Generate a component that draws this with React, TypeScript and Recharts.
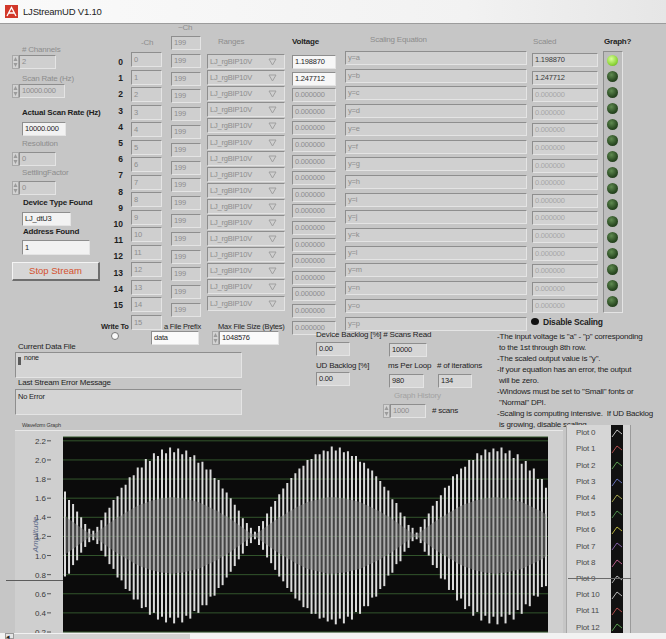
import React from "react";
import { ComposedChart, Bar, Area, XAxis, YAxis, CartesianGrid } from "recharts";

/* ---------- Waveform data (~4px per stroke) ---------- */

const strokeHigh = [
  1.67, 1.58, 1.54, 1.46, 1.40, 1.33, 1.28, 1.26, 1.30, 1.37, 1.45, 1.50, 1.58, 1.62, 1.71, 1.74, 1.82, 1.84, 1.92, 1.92,
  2.01, 1.99, 2.07, 2.04, 2.11, 2.07, 2.13, 2.08, 2.12, 2.06, 2.10, 2.03, 2.05, 1.97, 1.98, 1.90, 1.90, 1.81, 1.79, 1.70,
  1.66, 1.60, 1.53, 1.47, 1.39, 1.34, 1.29, 1.25, 1.31, 1.36, 1.44, 1.51, 1.57, 1.64, 1.70, 1.76, 1.81, 1.86, 1.91, 1.94,
  2.00, 2.01, 2.06, 2.06, 2.10, 2.09, 2.14, 2.10, 2.13, 2.08, 2.09, 2.04, 2.04, 1.98, 1.97, 1.91, 1.89, 1.83, 1.78, 1.72,
  1.68, 1.59, 1.55, 1.45, 1.41, 1.32, 1.29, 1.24, 1.30, 1.38, 1.44, 1.52, 1.57, 1.63, 1.71, 1.73, 1.83, 1.85, 1.91, 1.93,
  2.00, 2.00, 2.07, 2.05, 2.11, 2.08, 2.12, 2.09, 2.13, 2.07, 2.10, 2.02, 2.06, 1.96, 1.99, 1.89, 1.91, 1.80, 1.80, 1.71,
];

const strokeLow = [
  0.78, 0.81, 0.90, 0.95, 1.03, 1.09, 1.14, 1.16, 1.12, 1.05, 0.99, 0.91, 0.86, 0.77, 0.74, 0.65, 0.63, 0.54, 0.54, 0.45,
  0.46, 0.38, 0.40, 0.33, 0.36, 0.30, 0.35, 0.29, 0.35, 0.30, 0.37, 0.34, 0.42, 0.40, 0.48, 0.48, 0.57, 0.58, 0.66, 0.69,
  0.77, 0.83, 0.89, 0.96, 1.02, 1.10, 1.13, 1.17, 1.11, 1.06, 0.98, 0.92, 0.85, 0.78, 0.73, 0.66, 0.62, 0.55, 0.53, 0.46,
  0.45, 0.39, 0.39, 0.34, 0.35, 0.31, 0.33, 0.28, 0.34, 0.29, 0.36, 0.33, 0.41, 0.39, 0.47, 0.47, 0.56, 0.57, 0.65, 0.68,
  0.79, 0.82, 0.91, 0.94, 1.04, 1.08, 1.15, 1.17, 1.13, 1.04, 1.00, 0.90, 0.87, 0.76, 0.75, 0.64, 0.64, 0.53, 0.55, 0.44,
  0.47, 0.37, 0.41, 0.32, 0.37, 0.29, 0.36, 0.28, 0.36, 0.29, 0.38, 0.33, 0.43, 0.39, 0.49, 0.47, 0.58, 0.57, 0.67, 0.68,
];

// grey inner band (second channel)
const bandHigh = [
  1.41, 1.38, 1.35, 1.32, 1.29, 1.26, 1.23, 1.22, 1.25, 1.28, 1.31, 1.34, 1.37, 1.40, 1.42, 1.45, 1.47, 1.50, 1.52, 1.54,
  1.55, 1.57, 1.58, 1.59, 1.60, 1.60, 1.61, 1.61, 1.60, 1.60, 1.59, 1.58, 1.57, 1.56, 1.54, 1.52, 1.50, 1.48, 1.46, 1.43,
  1.41, 1.38, 1.35, 1.32, 1.29, 1.26, 1.23, 1.22, 1.25, 1.28, 1.31, 1.34, 1.37, 1.40, 1.42, 1.45, 1.47, 1.50, 1.52, 1.54,
  1.56, 1.57, 1.58, 1.59, 1.60, 1.61, 1.61, 1.61, 1.60, 1.60, 1.59, 1.58, 1.57, 1.56, 1.54, 1.52, 1.50, 1.48, 1.46, 1.43,
  1.41, 1.38, 1.35, 1.32, 1.29, 1.26, 1.23, 1.22, 1.25, 1.28, 1.31, 1.34, 1.37, 1.40, 1.42, 1.45, 1.47, 1.50, 1.52, 1.54,
  1.55, 1.57, 1.58, 1.59, 1.60, 1.60, 1.61, 1.61, 1.60, 1.60, 1.59, 1.58, 1.57, 1.56, 1.54, 1.52, 1.50, 1.48, 1.46, 1.43,
];

const bandLow = [
  1.01, 1.04, 1.07, 1.10, 1.13, 1.16, 1.19, 1.20, 1.17, 1.14, 1.11, 1.08, 1.05, 1.02, 1.00, 0.97, 0.95, 0.92, 0.90, 0.88,
  0.87, 0.85, 0.84, 0.83, 0.82, 0.82, 0.81, 0.81, 0.82, 0.82, 0.83, 0.84, 0.85, 0.86, 0.88, 0.90, 0.92, 0.94, 0.96, 0.99,
  1.01, 1.04, 1.07, 1.10, 1.13, 1.16, 1.19, 1.20, 1.17, 1.14, 1.11, 1.08, 1.05, 1.02, 1.00, 0.97, 0.95, 0.92, 0.90, 0.88,
  0.86, 0.85, 0.84, 0.83, 0.82, 0.81, 0.81, 0.81, 0.82, 0.82, 0.83, 0.84, 0.85, 0.86, 0.88, 0.90, 0.92, 0.94, 0.96, 0.99,
  1.01, 1.04, 1.07, 1.10, 1.13, 1.16, 1.19, 1.20, 1.17, 1.14, 1.11, 1.08, 1.05, 1.02, 1.00, 0.97, 0.95, 0.92, 0.90, 0.88,
  0.87, 0.85, 0.84, 0.83, 0.82, 0.82, 0.81, 0.81, 0.82, 0.82, 0.83, 0.84, 0.85, 0.86, 0.88, 0.90, 0.92, 0.94, 0.96, 0.99,
];

const ampTicks = [0.2, 0.4, 0.6, 0.8, 1.0, 1.2, 1.4, 1.6, 1.8, 2.0, 2.2];

const waveData = strokeHigh.map((hi, i) => ({
  i,
  stroke: [strokeLow[i], hi],
  band: [bandLow[i], bandHigh[i]],
}));

/* ---------- Front panel values ---------- */

const rowLabels = ["0", "1", "2", "3", "4", "5", "6", "7", "8", "9", "10", "11", "12", "13", "14", "15"];
const chValues = ["0", "1", "2", "3", "4", "5", "6", "7", "8", "9", "10", "11", "12", "13", "14", "15"];
const numChValues = rowLabels.map(() => "199");
const ranges = rowLabels.map(() => "LJ_rgBIP10V");
const voltages = ["1.198870", "1.247712", ...Array(15).fill("0.000000")];
const equations = ["y=a", "y=b", "y=c", "y=d", "y=e", "y=f", "y=g", "y=h", "y=i", "y=j", "y=k", "y=l", "y=m", "y=n", "y=o", "y=p"];
const scaled = ["1.198870", "1.247712", ...Array(13).fill("0.000000")];
const ledOn = [true, ...Array(15).fill(false)];

const notes = [
  '-The input voltage is "a" - "p" corresponding',
  " to the 1st through 8th row.",
  '-The scaled output value is "y".',
  "-If your equation has an error, the output",
  " will be zero.",
  '-Windows must be set to "Small" fonts or',
  ' "Normal" DPI.',
  "-Scaling is computing intensive.  If UD Backlog",
  " is growing, disable scaling.",
];

const legendNames = ["Plot 0", "Plot 1", "Plot 2", "Plot 3", "Plot 4", "Plot 5", "Plot 6", "Plot 7", "Plot 8", "Plot 9", "Plot 10", "Plot 11", "Plot 12"];
const legendColors = ["#eeeeee", "#d85a5a", "#6cc060", "#7a86e0", "#c8c85a", "#5aa85a", "#e0d84a", "#9a70c8", "#e070a8", "#dddddd", "#dddddd", "#d85a5a", "#6cc060"];

/* ---------- Styling helpers ---------- */

const FONT = "'Liberation Sans', Arial, sans-serif";
const GREY = "#8d8d8d";
const DARK = "#1e1e1e";

type TxtProps = {
  x: number;
  y: number;
  size?: number;
  color?: string;
  bold?: boolean;
  children: React.ReactNode;
};

function Txt({ x, y, size = 8, color = DARK, bold, children }: TxtProps) {
  return (
    <div
      style={{
        position: "absolute",
        left: x,
        top: y - size * 0.6,
        fontSize: size,
        lineHeight: `${size * 1.2}px`,
        color,
        fontWeight: bold ? 700 : 400,
        whiteSpace: "pre",
        letterSpacing: -0.2,
      }}
    >
      {children}
    </div>
  );
}

type FieldProps = {
  x: number;
  y: number;
  w: number;
  h: number;
  text?: string;
  bg?: string;
  color?: string;
  size?: number;
};

function Field({ x, y, w, h, text, bg = "#cfcfcf", color = GREY, size = 7.5 }: FieldProps) {
  return (
    <div
      style={{
        position: "absolute",
        left: x,
        top: y,
        width: w,
        height: h,
        boxSizing: "border-box",
        background: bg,
        borderTop: "1px solid #8e8e8e",
        borderLeft: "1px solid #8e8e8e",
        borderRight: "1px solid #e4e4e4",
        borderBottom: "1px solid #e4e4e4",
        fontSize: size,
        lineHeight: `${h - 2}px`,
        paddingLeft: 2,
        color,
        whiteSpace: "nowrap",
        overflow: "hidden",
        letterSpacing: -0.2,
      }}
    >
      {text}
    </div>
  );
}

function Spinner({ x, y, h }: { x: number; y: number; h: number }) {
  return (
    <svg style={{ position: "absolute", left: x, top: y }} width={7} height={h}>
      <rect x={0.5} y={0.5} width={6} height={h - 1} fill="#d2d2d2" stroke="#a8a8a8" />
      <path d={`M1.5 ${h / 2 - 1} L3.5 2 L5.5 ${h / 2 - 1} Z`} fill="#9a9a9a" />
      <path d={`M1.5 ${h / 2 + 1} L3.5 ${h - 2} L5.5 ${h / 2 + 1} Z`} fill="#9a9a9a" />
    </svg>
  );
}

/* ---------- Graph ---------- */

function AmpTick(props: any) {
  const { y, payload } = props;
  return (
    <g>
      <text x={31} y={y} dy={3} textAnchor="end" fontSize={8} fill="#3a3a3a" fontFamily={FONT}>
        {Number(payload.value).toFixed(1)}
      </text>
      <line x1={32} x2={36} y1={y} y2={y} stroke="#555" />
    </g>
  );
}

function WaveformGraph() {
  return (
    <ComposedChart
      width={547}
      height={209}
      data={waveData}
      margin={{ top: 7, right: 14, bottom: 7, left: 0 }}
      barCategoryGap={0}
    >
      <CartesianGrid vertical={false} stroke="#33562d" fill="#0b0b0b" fillOpacity={1} />
      <XAxis dataKey="i" hide />
      <YAxis
        domain={[0.2, 2.24]}
        ticks={ampTicks}
        interval={0}
        width={48}
        axisLine={false}
        tickLine={false}
        tick={<AmpTick />}
        allowDataOverflow
        label={{
          value: "Amplitude",
          angle: -90,
          position: "insideLeft",
          offset: 20,
          style: { fontSize: 8, fill: "#5d6b8a", fontStyle: "italic", fontFamily: FONT, textAnchor: "middle" },
        }}
      />
      <Bar dataKey="stroke" fill="#dcdcdc" barSize={2} isAnimationActive={false} />
      <Area
        dataKey="band"
        type="linear"
        stroke="none"
        fill="#7c7c7c"
        fillOpacity={0.5}
        isAnimationActive={false}
        zIndex={450}
      />
    </ComposedChart>
  );
}

/* ---------- App ---------- */

export default function App() {
  return (
    <div
      style={{
        position: "absolute",
        left: 0,
        top: 0,
        width: 666,
        height: 639,
        overflow: "hidden",
        background: "#c6c6c6",
        fontFamily: FONT,
      }}
    >
      {/* title bar */}
      <div
        style={{
          position: "absolute",
          left: 0,
          top: 0,
          width: 666,
          height: 23,
          background: "linear-gradient(90deg, #fafafa, #f2f2f2 70%, #e6e6e6)",
          borderBottom: "1px solid #9c9c9c",
        }}
      />
      <svg style={{ position: "absolute", left: 5, top: 5 }} width={13} height={13}>
        <rect width={13} height={13} fill="#d2382a" />
        <path d="M2 11 L6.5 2.5 L11 11 M4 8 L9 8" stroke="#fff" strokeWidth={1.3} fill="none" />
      </svg>
      <Txt x={23} y={12} size={9.5} color="#222">
        LJStreamUD V1.10
      </Txt>

      {/* left column */}
      <Txt x={22} y={50} color={GREY}># Channels</Txt>
      <Spinner x={12} y={55} h={14} />
      <Field x={19} y={55} w={37} h={14} text="2" />
      <Txt x={22} y={79} color={GREY}>Scan Rate (Hz)</Txt>
      <Spinner x={12} y={84} h={14} />
      <Field x={19} y={84} w={46} h={14} text="10000.000" />
      <Txt x={22} y={113} bold>Actual Scan Rate (Hz)</Txt>
      <Field x={22} y={122} w={44} h={14} text="10000.000" bg="#f2f2f2" color={DARK} />
      <Txt x={22} y={144} color={GREY}>Resolution</Txt>
      <Spinner x={12} y={152} h={14} />
      <Field x={19} y={152} w={37} h={14} text="0" />
      <Txt x={22} y={173} color={GREY}>SettlingFactor</Txt>
      <Spinner x={12} y={181} h={14} />
      <Field x={19} y={181} w={37} h={14} text="0" />
      <Txt x={23} y={203} bold>Device Type Found</Txt>
      <Field x={22} y={212} w={49} h={14} text="LJ_dtU3" bg="#f2f2f2" color={DARK} />
      <Txt x={23} y={232} bold>Address Found</Txt>
      <Field x={22} y={240} w={68} h={15} text="1" bg="#f2f2f2" color={DARK} />
      <div
        style={{
          position: "absolute",
          left: 12,
          top: 262,
          width: 88,
          height: 19,
          boxSizing: "border-box",
          background: "#d6d6d6",
          borderTop: "1px solid #f4f4f4",
          borderLeft: "1px solid #f4f4f4",
          borderRight: "2px solid #6e6e6e",
          borderBottom: "2px solid #6e6e6e",
          color: "#d4512e",
          fontSize: 9.5,
          lineHeight: "16px",
          textAlign: "center",
        }}
      >
        Stop Stream
      </div>

      {/* channel table */}
      <Txt x={141} y={43} color={GREY}>-Ch</Txt>
      <Txt x={178} y={28} color={GREY}>~Ch</Txt>
      <Txt x={218} y={42} color={GREY}>Ranges</Txt>
      <Txt x={292} y={42} bold>Voltage</Txt>
      <Txt x={370} y={40} color={GREY}>Scaling Equation</Txt>
      <Txt x={533} y={42} color={GREY}>Scaled</Txt>
      <Txt x={604} y={42} bold>Graph?</Txt>

      {rowLabels.map((r, i) => (
        <div
          key={"rl" + i}
          style={{
            position: "absolute",
            left: 104,
            width: 19,
            top: 62 + 16.2 * i - 5,
            fontSize: 8.5,
            lineHeight: "10px",
            fontWeight: 700,
            textAlign: "right",
            color: DARK,
          }}
        >
          {r}
        </div>
      ))}
      {chValues.map((c, i) => (
        <Field key={"ch" + i} x={131} y={52 + 17.5 * i} w={31} h={15} text={c} />
      ))}
      {numChValues.map((c, i) => (
        <Field key={"nc" + i} x={171} y={36 + 17.8 * i} w={30} h={14} text={c} />
      ))}
      {ranges.map((r, i) => (
        <div key={"rg" + i}>
          <Field x={207} y={54 + 16.1 * i} w={78} h={15} text={r} bg="#d0d0d0" />
          <svg style={{ position: "absolute", left: 268, top: 58 + 16.1 * i }} width={9} height={8}>
            <path d="M1 1 L8 1 L4.5 7 Z" fill="none" stroke="#a0a0a0" />
          </svg>
        </div>
      ))}
      {voltages.map((v, i) => (
        <Field
          key={"v" + i}
          x={292}
          y={55 + 16.6 * i}
          w={44}
          h={14}
          text={v}
          bg={i < 2 ? "#f7f7f7" : "#cfcfcf"}
          color={i < 2 ? DARK : GREY}
        />
      ))}
      {equations.map((e, i) => (
        <Field key={"eq" + i} x={345} y={51 + 17.7 * i} w={182} h={14} text={e} bg="#d0d0d0" />
      ))}
      {scaled.map((s, i) => (
        <Field
          key={"sc" + i}
          x={532}
          y={53 + 17.6 * i}
          w={66}
          h={14}
          text={s}
          bg="#d2d2d2"
          color={i < 2 ? "#3a3a3a" : "#a6a6a6"}
        />
      ))}
      <div
        style={{
          position: "absolute",
          left: 603,
          top: 51,
          width: 20,
          height: 262,
          boxSizing: "border-box",
          background: "#bdbdbd",
          borderTop: "1px solid #8e8e8e",
          borderLeft: "1px solid #8e8e8e",
          borderRight: "1px solid #e4e4e4",
          borderBottom: "1px solid #e4e4e4",
        }}
      />
      {ledOn.map((on, i) => (
        <div
          key={"led" + i}
          style={{
            position: "absolute",
            left: 607,
            top: 54.5 + 16.1 * i,
            width: 11,
            height: 11,
            borderRadius: "50%",
            background: on
              ? "radial-gradient(circle at 40% 35%, #d8ff9a, #8fd63a 60%, #5a9a28)"
              : "radial-gradient(circle at 40% 35%, #5f8a50, #2a4a22 60%, #1a2e16)",
          }}
        />
      ))}
      <div style={{ position: "absolute", left: 531, top: 318, width: 8, height: 7, borderRadius: "50%", background: "#111" }} />
      <Txt x={543} y={322} bold size={8.5}>Disable Scaling</Txt>

      {/* file settings */}
      <Txt x={101} y={326} bold size={7.5}>Write To</Txt>
      <div
        style={{
          position: "absolute",
          left: 111,
          top: 332,
          width: 8,
          height: 8,
          borderRadius: "50%",
          background: "#fafafa",
          border: "1px solid #777",
          boxSizing: "border-box",
        }}
      />
      <Txt x={164} y={326} size={7.5}>a File Prefix</Txt>
      <Txt x={218} y={326} size={7.5}>Max File Size (Bytes)</Txt>
      <Field x={151} y={331} w={48} h={14} text="data" bg="#fafafa" color={DARK} />
      <Spinner x={212} y={331} h={14} />
      <Field x={219} y={331} w={60} h={14} text="1048576" bg="#fafafa" color={DARK} />
      <Txt x={18} y={347}>Current Data File</Txt>
      <Field x={15} y={352} w={227} h={26} bg="#d4d4d4" />
      <div style={{ position: "absolute", left: 18, top: 357, width: 3, height: 8, background: "#5a5a5a" }} />
      <Txt x={24} y={358} size={7}>none</Txt>
      <Txt x={18} y={383}>Last Stream Error Message</Txt>
      <Field x={15} y={389} w={227} h={26} bg="#d4d4d4" />
      <Txt x={18} y={396} size={7.5}>No Error</Txt>

      {/* stream status */}
      <Txt x={316} y={335} size={8}>Device Backlog [%] # Scans Read</Txt>
      <Field x={316} y={342} w={34} h={14} text="0.00" bg="#d6d6d6" color={DARK} />
      <Field x={389} y={343} w={38} h={14} text="10000" bg="#d6d6d6" color={DARK} />
      <Txt x={316} y={366}>UD Backlog [%]</Txt>
      <Field x={316} y={372} w={34} h={14} text="0.00" bg="#d6d6d6" color={DARK} />
      <Txt x={388} y={366}>ms Per Loop</Txt>
      <Txt x={437} y={366}># of iterations</Txt>
      <Field x={389} y={374} w={35} h={14} text="980" bg="#d6d6d6" color={DARK} />
      <Field x={438} y={374} w={34} h={14} text="134" bg="#d6d6d6" color={DARK} />
      <Txt x={394} y={396} color="#a2a2a2">Graph History</Txt>
      <Spinner x={383} y={404} h={14} />
      <Field x={390} y={404} w={36} h={14} text="1000" />
      <Txt x={432} y={411}># scans</Txt>

      {notes.map((n, i) => (
        <Txt key={"n" + i} x={497} y={337 + 11 * i} size={8}>
          {n}
        </Txt>
      ))}

      {/* waveform graph */}
      <Txt x={22} y={425} size={5.5} color="#3a3a3a">Waveform Graph</Txt>
      <div
        style={{
          position: "absolute",
          left: 15,
          top: 430,
          width: 548,
          height: 209,
          background: "#cfcfcf",
          borderTop: "1px solid #e8e8e8",
        }}
      />
      <div style={{ position: "absolute", left: 15, top: 430 }}>
        <WaveformGraph />
      </div>
      <div style={{ position: "absolute", left: 6, top: 580, width: 57, height: 1, background: "#5c5c5c" }} />

      {/* plot legend */}
      <div
        style={{
          position: "absolute",
          left: 566,
          top: 425,
          width: 65,
          height: 214,
          boxSizing: "border-box",
          background: "#d6d6d6",
          borderLeft: "1px solid #a8a8a8",
          borderRight: "1px solid #9a9a9a",
        }}
      />
      <div style={{ position: "absolute", left: 611, top: 425, width: 12, height: 214, background: "#111" }} />
      {legendNames.map((name, i) => (
        <div key={"lg" + i}>
          <Txt x={576} y={433 + 16.2 * i} size={8} color="#4a4a4a">
            {name}
          </Txt>
          <svg style={{ position: "absolute", left: 611, top: 427 + 16.2 * i }} width={12} height={12}>
            <polyline points="1,10 6,3 11,7" fill="none" stroke={legendColors[i]} strokeWidth={0.8} />
          </svg>
        </div>
      ))}
      <div style={{ position: "absolute", left: 568, top: 578, width: 63, height: 1, background: "#6a6a6a" }} />

      {/* scroll strip */}
      <div style={{ position: "absolute", left: 0, top: 633, width: 666, height: 6, background: "#f2f2f2" }} />
      <div style={{ position: "absolute", left: 14, top: 634, width: 176, height: 5, background: "#d2d2d2" }} />
      <div
        style={{
          position: "absolute",
          left: 5,
          top: 633,
          width: 9,
          height: 6,
          fontSize: 7,
          lineHeight: "6px",
          color: "#222",
          background: "#e6e6e6",
          border: "1px solid #9a9a9a",
          boxSizing: "border-box",
        }}
      >
        ◂
      </div>
    </div>
  );
}
